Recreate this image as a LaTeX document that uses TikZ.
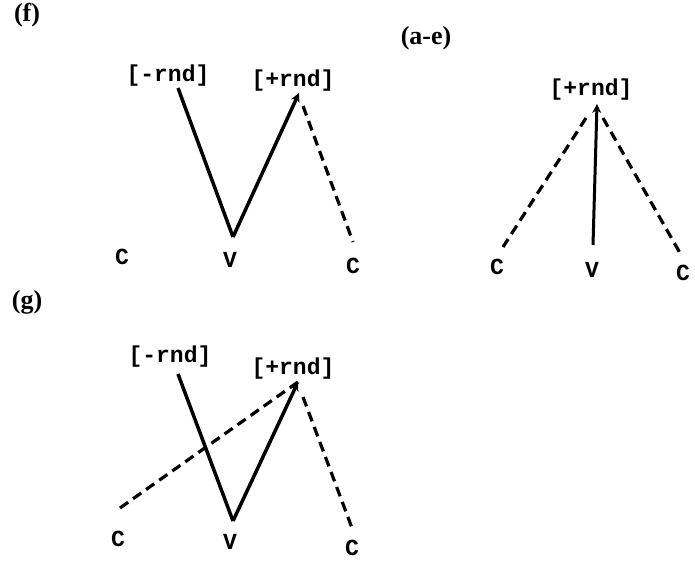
\documentclass[tikz,border=0pt]{standalone}
\usepackage{fontspec}
\setmainfont{Liberation Serif}
\setmonofont{Liberation Mono}
\usetikzlibrary{arrows.meta}
\begin{document}
\begin{tikzpicture}[x=1pt,y=-1pt,
  panel/.style={font=\fontsize{26}{26}\selectfont\bfseries, inner sep=0pt},
  feat/.style={font=\fontsize{23}{23}\selectfont\ttfamily\bfseries, inner sep=0pt},
  seg/.style={font=\fontsize{23}{23}\selectfont\ttfamily\bfseries, inner sep=0pt},
  solidln/.style={line width=3.5pt},
  dashln/.style={line width=3.2pt, dash pattern=on 10pt off 6pt},
  arr/.style={-{Stealth[length=9pt,width=9pt]}}]
\useasboundingbox (0,0) rectangle (695,561);
% ---------- (f)
\node[panel] (flab) at (27,15) {(f)};
\node[feat] (fneg) at (168,76) {[-rnd]};
\node[feat] (fpos) at (293,81) {[+rnd]};
\node[seg] (fc1) at (122,257) {C};
\node[seg] (fv) at (230,260) {V};
\node[seg] (fc2) at (353,266) {C};
\coordinate (fnegb) at (178,88);
\coordinate (fvt) at (233,237);
\coordinate (fpost) at (299,93);
\coordinate (fposd) at (303,106);
\coordinate (fc2t) at (353,242);
\draw[solidln] (fnegb) -- (fvt);
\draw[solidln,arr] (fvt) -- (fpost);
\draw[dashln] (fposd) -- (fc2t);
% ---------- (a-e)
\node[panel] (aelab) at (426,38) {(a-e)};
\node[feat] (aepos) at (591,90) {[+rnd]};
\node[seg] (aec1) at (497,267) {C};
\node[seg] (aev) at (592,270) {V};
\node[seg] (aec2) at (683,273) {C};
\coordinate (aetip) at (597,104);
\coordinate (aevt) at (593,245);
\coordinate (aedl) at (586,118);
\coordinate (aedr) at (603,118);
\coordinate (aec1t) at (503,247);
\coordinate (aec2t) at (680,253);
\draw[solidln,line width=3pt,arr] (aevt) -- (aetip);
\draw[dashln] (aedl) -- (aec1t);
\draw[dashln] (aedr) -- (aec2t);
% ---------- (g)
\node[panel] (glab) at (27,302) {(g)};
\node[feat] (gneg) at (170,357) {[-rnd]};
\node[feat] (gpos) at (293,369) {[+rnd]};
\node[seg] (gc1) at (118,539) {C};
\node[seg] (gv) at (230,542) {V};
\node[seg] (gc2) at (352,548) {C};
\coordinate (gnegb) at (178,374);
\coordinate (gvt) at (233,521);
\coordinate (gpost) at (298,382);
\coordinate (gposd) at (303,397);
\coordinate (gc1t) at (120,508);
\coordinate (gc2t) at (352,528);
\draw[solidln] (gnegb) -- (gvt);
\draw[solidln,arr] (gvt) -- (gpost);
\draw[dashln] (gc1t) -- (gpost);
\draw[dashln] (gposd) -- (gc2t);
\end{tikzpicture}
\end{document}
